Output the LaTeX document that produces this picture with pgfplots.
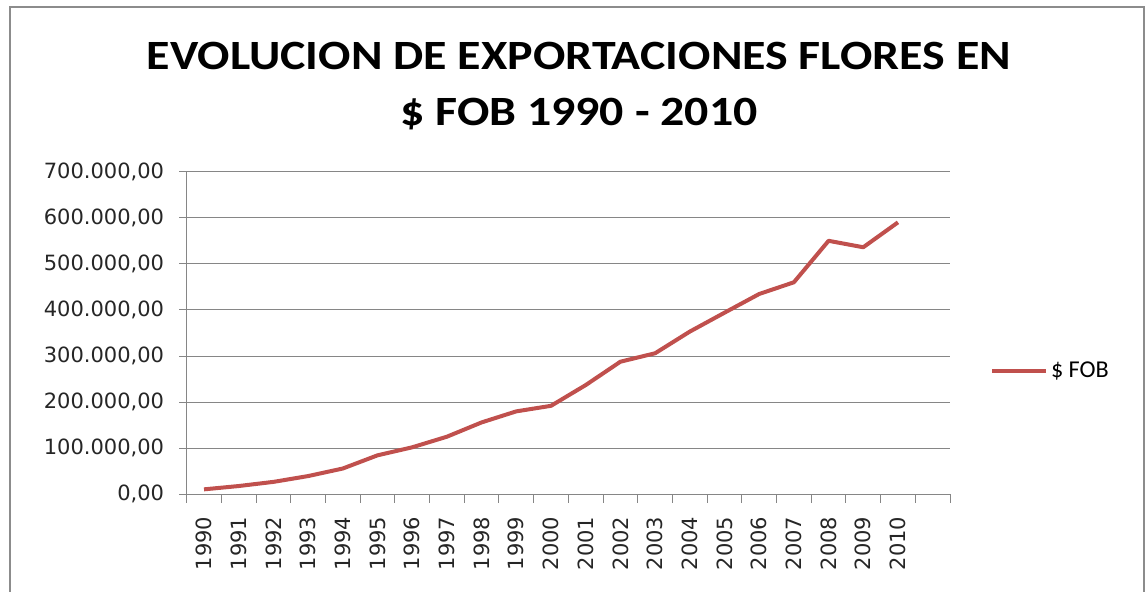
\documentclass[border=0pt]{standalone}
\usepackage{fontspec}
\setmainfont{DejaVu Sans}
\newfontfamily\carlito{Carlito}
\usepackage{pgfplots}
\pgfplotsset{compat=1.18}
\definecolor{xlred}{HTML}{C0504D}
\definecolor{xlgrid}{HTML}{868686}
\definecolor{xlframe}{HTML}{8C8C8C}

\begin{document}
\begin{tikzpicture}
% page = 1146 x 592 px at 0.6pt per px
\useasboundingbox (0,0) rectangle (687.6pt,355.2pt);
\draw[xlframe, line width=1.3pt] (6pt,351pt) rectangle (686.4pt,-10pt);

\node[font=\carlito\bfseries\fontsize{25}{34}\selectfont, align=center, xscale=1.15]
  at (347.4pt,303.5pt) {EVOLUCION DE EXPORTACIONES FLORES EN\\\$ FOB 1990 - 2010};

\begin{axis}[
  at={(112pt,58.6pt)}, anchor=south west,
  scale only axis, width=458pt, height=193.6pt,
  xmin=-0.5, xmax=21.5, ymin=0, ymax=700000,
  axis x line*=bottom, axis y line*=left,
  axis line style={xlgrid, line width=0.6pt},
  ytick={0,100000,...,700000},
  ymajorgrids, major grid style={xlgrid, line width=0.6pt},
  scaled y ticks=false,
  yticklabel style={/pgf/number format/.cd, fixed, fixed zerofill, precision=2,
    1000 sep={.}, use comma, assume math mode=true},
  xtick={0,...,20},
  xticklabels={1990,1991,1992,1993,1994,1995,1996,1997,1998,1999,2000,
               2001,2002,2003,2004,2005,2006,2007,2008,2009,2010},
  minor xtick={-0.5,0.5,...,21.5},
  tick align=outside,
  major x tick style={draw=none},
  minor tick length=5pt, major tick length=4.5pt,
  tick style={xlgrid, line width=0.6pt},
  tick label style={font=\fontsize{12.6}{14}\selectfont, text=black!85},
  xticklabel style={rotate=90, anchor=east, /pgf/number format/assume math mode=true},
  xticklabel shift=5.5pt,
  yticklabel shift=5.5pt,
  legend style={at={(1.0524,0.382)}, anchor=west, draw=none, fill=none,
    inner sep=0pt, font=\carlito\fontsize{14.5}{16}\selectfont},
  legend image code/.code={\draw[#1] (0pt,0pt) -- (32pt,0pt);},
  legend cell align=left,
]
\addplot[xlred, line width=2.4pt, line join=round] coordinates {
  (0,10800) (1,18000) (2,27000) (3,39600) (4,56000) (5,84600) (6,102000)
  (7,125000) (8,156000) (9,180000) (10,192000) (11,237000) (12,287700)
  (13,306000) (14,353000) (15,394000) (16,434600) (17,460000)
  (18,550000) (19,536000) (20,590000)};
\addlegendentry{\$ FOB}
\end{axis}
\end{tikzpicture}
\end{document}
